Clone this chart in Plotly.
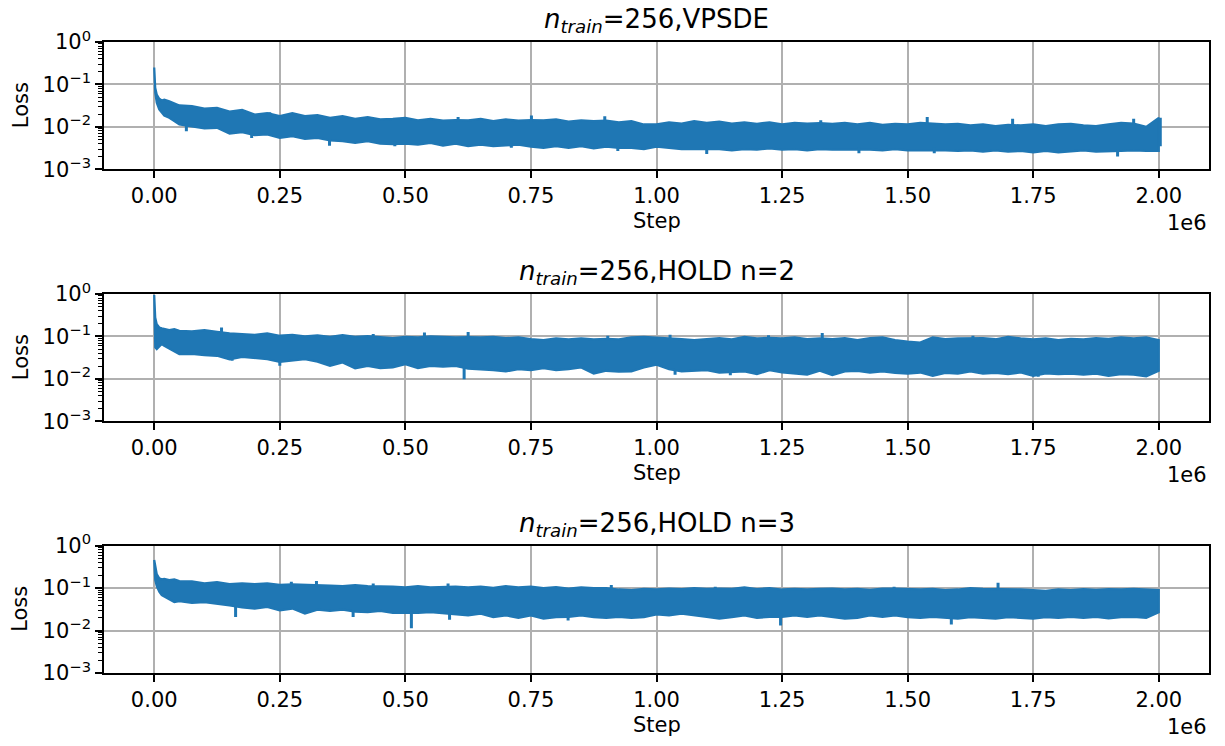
import plotly.graph_objects as go

# ---------------- data ----------------
steps = [0, 2000, 5000, 10000, 15000, 20000, 30000, 40000, 50000] + list(range(75000, 2000001, 25000))

# band edges (upper / lower envelope of the noisy loss curve), one value per step
vpsde_upper = [0.25, 0.083, 0.058, 0.046, 0.042, 0.044, 0.040, 0.035, 0.032,
               0.031, 0.027, 0.028, 0.023, 0.025, 0.0195, 0.021, 0.018, 0.021, 0.018,
               0.019, 0.0163, 0.018, 0.0155, 0.017, 0.015, 0.0155, 0.0163, 0.0143, 0.0155,
               0.014, 0.0145, 0.0143, 0.0155, 0.0136, 0.015, 0.014, 0.0145, 0.0143, 0.015,
               0.0133, 0.0143, 0.0136, 0.014, 0.0128, 0.0136, 0.0114,
               0.0114, 0.0128, 0.012, 0.0136, 0.0124, 0.0133, 0.012, 0.0128, 0.0118, 0.0128,
               0.0114, 0.0124, 0.012, 0.0122, 0.0118, 0.0124, 0.0114, 0.0124, 0.0111, 0.0118,
               0.0114, 0.0124, 0.0118, 0.0114, 0.0118, 0.0108, 0.0114, 0.0104, 0.0112, 0.0108,
               0.0114, 0.0104, 0.0114, 0.0118, 0.0108, 0.0104, 0.0114, 0.0124, 0.012, 0.0100,
               0.0163]
vpsde_lower = [0.25, 0.064, 0.037, 0.0257, 0.022, 0.0185, 0.0163, 0.0136, 0.0114,
               0.0104, 0.0092, 0.0095, 0.0069, 0.0075, 0.0064, 0.0066, 0.0055, 0.006, 0.0052,
               0.0055, 0.0048, 0.0046, 0.0042, 0.0046, 0.004, 0.0039, 0.004, 0.0038, 0.0042,
               0.0036, 0.004, 0.0035, 0.0038, 0.0035, 0.0036, 0.0038, 0.0034, 0.0032, 0.0035,
               0.0032, 0.0035, 0.0031, 0.0034, 0.0032, 0.0032, 0.003,
               0.0034, 0.0032, 0.003, 0.0029, 0.003, 0.003, 0.0028, 0.003, 0.0029, 0.0031,
               0.0029, 0.003, 0.0028, 0.003, 0.0029, 0.0028, 0.0029, 0.0029, 0.0028, 0.003,
               0.0028, 0.0029, 0.0028, 0.0028, 0.0027, 0.0028, 0.0026, 0.0028, 0.0026, 0.0027,
               0.0025, 0.0027, 0.0025, 0.0027, 0.0028, 0.0026, 0.0027, 0.0027, 0.0028, 0.0027,
               0.0027]
# narrow outliers: [step, foot, tip]
vpsde_spikes = [[64000, 0.012, 0.0079], [194000, 0.0075, 0.0055], [230000, 0.019, 0.0222],
                [349000, 0.0052, 0.0036], [479000, 0.0045, 0.0035], [605000, 0.0135, 0.017],
                [711000, 0.004, 0.0032], [751000, 0.013, 0.0185], [897000, 0.013, 0.0179],
                [923000, 0.0036, 0.0027], [1100000, 0.0034, 0.0023], [1327000, 0.0115, 0.0143],
                [1403000, 0.0032, 0.0024], [1539000, 0.011, 0.017], [1553000, 0.0032, 0.0024],
                [1709000, 0.0105, 0.0155], [1918000, 0.003, 0.002], [1950000, 0.011, 0.0156],
                [2003000, 0.0035, 0.0163]]

hold2_upper = [0.95, 0.28, 0.195, 0.163, 0.155, 0.149, 0.141, 0.149, 0.136,
               0.131, 0.141, 0.128, 0.118, 0.114, 0.109, 0.118, 0.104, 0.109, 0.1,
               0.106, 0.098, 0.107, 0.098, 0.102, 0.098, 0.091, 0.098, 0.095, 0.1,
               0.098, 0.095, 0.097, 0.095, 0.098, 0.091, 0.095, 0.086, 0.082, 0.09,
               0.085, 0.09, 0.085, 0.088, 0.085, 0.095, 0.098,
               0.095, 0.092, 0.086, 0.082, 0.086, 0.091, 0.085, 0.098, 0.09, 0.092,
               0.09, 0.095, 0.086, 0.09, 0.086, 0.091, 0.082, 0.091, 0.095, 0.082,
               0.076, 0.072, 0.095, 0.086, 0.09, 0.09, 0.091, 0.086, 0.098, 0.09,
               0.085, 0.09, 0.082, 0.088, 0.085, 0.091, 0.088, 0.095, 0.09, 0.095,
               0.082]
hold2_lower = [0.95, 0.055, 0.05, 0.057, 0.066, 0.06, 0.05, 0.044, 0.038,
               0.039, 0.036, 0.035, 0.029, 0.033, 0.031, 0.029, 0.025, 0.0266, 0.029,
               0.0255, 0.0203, 0.0243, 0.0178, 0.0203, 0.0178, 0.0185, 0.0222, 0.0178, 0.0203,
               0.0193, 0.0203, 0.0175, 0.0169, 0.016, 0.015, 0.0169, 0.016, 0.0178, 0.016,
               0.0169, 0.0185, 0.0133, 0.0155, 0.0147, 0.015, 0.0185,
               0.0215, 0.0169, 0.015, 0.0155, 0.016, 0.0141, 0.0145, 0.015, 0.0129, 0.016,
               0.0141, 0.0133, 0.0125, 0.0155, 0.0122, 0.015, 0.0155, 0.0141, 0.015, 0.0138,
               0.0133, 0.0141, 0.0118, 0.0138, 0.0133, 0.015, 0.0133, 0.0138, 0.0129, 0.0141,
               0.0118, 0.0135, 0.0129, 0.0133, 0.0125, 0.0133, 0.0118, 0.0129, 0.0125, 0.0114,
               0.0155]
hold2_spikes = [[134000, 0.11, 0.163], [155000, 0.034, 0.0266], [250000, 0.026, 0.0203],
                [436000, 0.095, 0.114], [538000, 0.09, 0.124], [617000, 0.019, 0.0098],
                [625000, 0.09, 0.128], [903000, 0.085, 0.104], [1027000, 0.088, 0.109],
                [1037000, 0.016, 0.0125], [1147000, 0.016, 0.0122], [1223000, 0.088, 0.107],
                [1330000, 0.086, 0.12], [1630000, 0.086, 0.104], [1760000, 0.015, 0.0112]]

hold3_upper = [0.46, 0.35, 0.215, 0.17, 0.161, 0.166, 0.155, 0.161, 0.147,
               0.145, 0.129, 0.139, 0.124, 0.13, 0.124, 0.129, 0.12, 0.122, 0.118,
               0.118, 0.114, 0.112, 0.118, 0.112, 0.112, 0.108, 0.104, 0.112, 0.104,
               0.108, 0.108, 0.104, 0.108, 0.102, 0.112, 0.104, 0.108, 0.1, 0.106,
               0.098, 0.104, 0.1, 0.1, 0.093, 0.09, 0.096,
               0.093, 0.098, 0.095, 0.1, 0.096, 0.098, 0.096, 0.104, 0.095, 0.1,
               0.093, 0.096, 0.093, 0.096, 0.098, 0.093, 0.096, 0.091, 0.098, 0.097,
               0.096, 0.093, 0.096, 0.09, 0.093, 0.1, 0.096, 0.095, 0.096, 0.093,
               0.09, 0.086, 0.093, 0.09, 0.095, 0.091, 0.095, 0.093, 0.096, 0.093,
               0.09]
hold3_lower = [0.46, 0.155, 0.112, 0.082, 0.068, 0.062, 0.054, 0.047, 0.049,
               0.045, 0.047, 0.042, 0.039, 0.035, 0.033, 0.036, 0.03, 0.033, 0.025,
               0.031, 0.029, 0.031, 0.028, 0.027, 0.029, 0.026, 0.026, 0.026, 0.027,
               0.025, 0.024, 0.0228, 0.025, 0.0208, 0.0228, 0.02, 0.0228, 0.019, 0.0208,
               0.021, 0.0228, 0.0208, 0.02, 0.021, 0.02, 0.0208,
               0.024, 0.0228, 0.025, 0.0228, 0.021, 0.019, 0.0208, 0.0228, 0.02, 0.021,
               0.021, 0.0228, 0.021, 0.0228, 0.0208, 0.019, 0.02, 0.0228, 0.021, 0.0228,
               0.0208, 0.02, 0.021, 0.02, 0.019, 0.0208, 0.02, 0.019, 0.0208, 0.0197,
               0.019, 0.0208, 0.02, 0.021, 0.02, 0.021, 0.0194, 0.0208, 0.021, 0.02,
               0.027]
hold3_spikes = [[162000, 0.04, 0.0208], [273000, 0.11, 0.142], [323000, 0.11, 0.147],
                [396000, 0.03, 0.0208], [436000, 0.104, 0.129], [512000, 0.028, 0.0114],
                [585000, 0.1, 0.129], [588000, 0.026, 0.018], [824000, 0.023, 0.0173],
                [910000, 0.094, 0.118], [1117000, 0.09, 0.108], [1247000, 0.023, 0.0132],
                [1473000, 0.09, 0.108], [1587000, 0.022, 0.0139], [1680000, 0.09, 0.134]]

titles = ["<i>n</i><sub><i>train</i></sub>=256,VPSDE",
          "<i>n</i><sub><i>train</i></sub>=256,HOLD n=2",
          "<i>n</i><sub><i>train</i></sub>=256,HOLD n=3"]
x_tick_vals = [0, 250000, 500000, 750000, 1000000, 1250000, 1500000, 1750000, 2000000]
x_tick_text = ["0.00", "0.25", "0.50", "0.75", "1.00", "1.25", "1.50", "1.75", "2.00"]
y_tick_vals = [0.001, 0.01, 0.1, 1]
y_tick_text = ["10<sup>−3</sup>", "10<sup>−2</sup>", "10<sup>−1</sup>", "10<sup>0</sup>"]
y_minor_vals = [m * 10 ** e for e in (-3, -2, -1) for m in range(2, 10)]
x_label = "Step"
y_label = "Loss"
offset_label = "1e6"

series = [(vpsde_upper, vpsde_lower, vpsde_spikes),
          (hold2_upper, hold2_lower, hold2_spikes),
          (hold3_upper, hold3_lower, hold3_spikes)]

# ---------------- layout geometry (reference pixels) ----------------
W, H = 1225, 746
BLUE = "#1f77b4"
FONT = "DejaVu Sans"
left_px, right_px = 104, 1209
tops = [42, 294, 545.7]
ax_h = 127.3


def px_x(x):
    return x / W


def px_y(y):
    return 1 - y / H


fig = go.Figure()
annotations = []
layout = dict(
    template="none",
    width=W, height=H, margin=dict(l=0, r=0, t=0, b=0, pad=0), autosize=False,
    paper_bgcolor="white", plot_bgcolor="white", showlegend=False,
    font=dict(family=FONT, size=21, color="black"),
)

for i, (up, lo, spikes) in enumerate(series):
    k = "" if i == 0 else str(i + 1)
    xa, ya = "x" + k, "y" + k
    fig.add_trace(go.Scatter(
        x=steps + steps[::-1], y=up + lo[::-1],
        xaxis=xa, yaxis=ya, mode="lines", fill="toself",
        fillcolor=BLUE, line=dict(color=BLUE, width=2.2), hoverinfo="skip"))
    sx, sy = [], []
    for s, foot, tip in spikes:
        sx += [s, s, None]
        sy += [foot, tip, None]
    fig.add_trace(go.Scatter(
        x=sx, y=sy, xaxis=xa, yaxis=ya, mode="lines",
        line=dict(color=BLUE, width=3), hoverinfo="skip", connectgaps=False))
    top = tops[i]
    bot = top + ax_h
    common = dict(
        automargin=False,
        showline=True, linecolor="black", linewidth=1.6, mirror=True,
        showgrid=True, gridcolor="#b0b0b0", gridwidth=1.6, zeroline=False,
        ticks="outside", ticklen=7, tickwidth=1.6, tickcolor="black",
        tickfont=dict(family=FONT, size=21, color="black"),
    )
    layout["xaxis" + k] = dict(
        common, domain=[px_x(left_px), px_x(right_px)], anchor=ya,
        range=[-100000, 2100000], tickmode="array",
        tickvals=x_tick_vals, ticktext=x_tick_text)
    layout["yaxis" + k] = dict(
        common, domain=[px_y(bot), px_y(top)], anchor=xa, type="log",
        range=[-3, 0], tickmode="array", tickvals=y_tick_vals, ticktext=y_tick_text,
        minor=dict(tickmode="array", tickvals=y_minor_vals, ticks="outside",
                   ticklen=4, tickwidth=1.2, tickcolor="black", showgrid=False))
    annotations.append(dict(text=titles[i], xref="paper", yref="paper",
                            x=px_x((left_px + right_px) / 2), y=px_y(top - 21.5),
                            xanchor="center", yanchor="middle", showarrow=False,
                            font=dict(family=FONT, size=26, color="black")))
    annotations.append(dict(text=x_label, xref="paper", yref="paper",
                            x=px_x((left_px + right_px) / 2), y=px_y(top + 179),
                            xanchor="center", yanchor="middle", showarrow=False,
                            font=dict(family=FONT, size=21, color="black")))
    annotations.append(dict(text=offset_label, xref="paper", yref="paper",
                            x=px_x(right_px), y=px_y(top + 181),
                            xanchor="right", yanchor="middle", showarrow=False,
                            font=dict(family=FONT, size=21, color="black")))
    annotations.append(dict(text=y_label, xref="paper", yref="paper",
                            x=px_x(20.5), y=px_y(top + ax_h / 2), textangle=-90,
                            xanchor="center", yanchor="middle", showarrow=False,
                            font=dict(family=FONT, size=21, color="black")))

layout["annotations"] = annotations
fig.update_layout(**layout)
fig.write_html("out.html", config={"displayModeBar": False},
               post_script="document.body.style.margin='0px';")
